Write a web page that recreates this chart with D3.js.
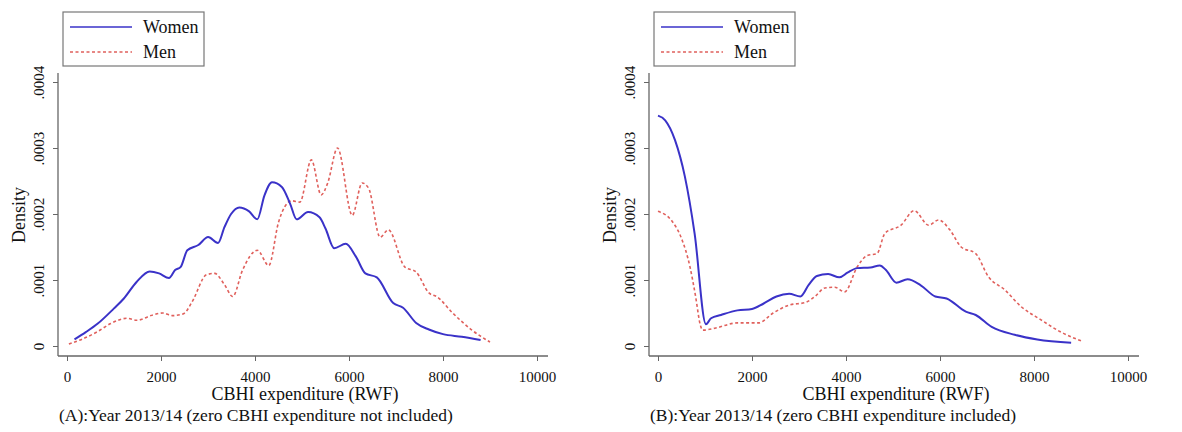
<!DOCTYPE html>
<html>
<head>
<meta charset="utf-8">
<script src="https://cdn.jsdelivr.net/npm/d3@7"></script>
<style>
  body { margin: 0; background: #fff; }
  svg text { font-family: "Liberation Serif", "Times New Roman", serif; fill: #111; }
</style>
</head>
<body>
<svg id="chart" width="1182" height="432"></svg>
<script>
// density values in units of 1e-4
const xTicks = [0, 2000, 4000, 6000, 8000, 10000];
const yTicks = [0, 0.0001, 0.0002, 0.0003, 0.0004];
const yTickLabels = ['0', '.0001', '.0002', '.0003', '.0004'];
const seriesNames = ['Women', 'Men'];

// (A) zero expenditure not included
const womenA = [
  [160, 0.10], [400, 0.21], [655, 0.34], [1000, 0.57], [1210, 0.72], [1480, 0.97],
  [1760, 1.13], [1960, 1.10], [2170, 1.03], [2300, 1.15], [2420, 1.20], [2560, 1.45],
  [2794, 1.53], [3003, 1.65], [3213, 1.56], [3350, 1.80], [3491, 2.0], [3666, 2.1],
  [3875, 2.04], [4049, 1.92], [4200, 2.28], [4362, 2.48], [4571, 2.41], [4750, 2.15],
  [4885, 1.92], [5129, 2.03], [5373, 1.95], [5500, 1.78], [5686, 1.48], [5930, 1.55],
  [6150, 1.35], [6348, 1.1], [6592, 1.04], [6941, 0.65], [7150, 0.58], [7429, 0.35],
  [7700, 0.25], [8000, 0.18], [8400, 0.14], [8800, 0.09]
];
const menA = [
  [40, 0.03], [310, 0.10], [655, 0.22], [930, 0.34], [1276, 0.42], [1483, 0.39],
  [1828, 0.47], [2034, 0.50], [2241, 0.46], [2483, 0.49], [2655, 0.66], [2969, 1.08],
  [3143, 1.10], [3350, 0.93], [3526, 0.75], [3735, 1.15], [4049, 1.45], [4293, 1.22],
  [4502, 1.88], [4780, 2.2], [4955, 2.18], [5199, 2.82], [5408, 2.29], [5547, 2.47],
  [5756, 3.0], [6070, 1.98], [6279, 2.47], [6418, 2.39], [6662, 1.65], [6836, 1.76],
  [7185, 1.2], [7429, 1.12], [7707, 0.8], [7863, 0.75], [8205, 0.5], [8616, 0.24],
  [9000, 0.06]
];

// (B) zero expenditure included
const womenB = [
  [0, 3.49], [153, 3.42], [362, 3.12], [571, 2.57], [780, 1.70], [1020, 0.33],
  [1129, 0.42], [1340, 0.47], [1690, 0.54], [2000, 0.56], [2240, 0.64], [2520, 0.75],
  [2790, 0.79], [3030, 0.75], [3210, 0.93], [3380, 1.06], [3620, 1.09], [3860, 1.04],
  [4030, 1.11], [4240, 1.18], [4520, 1.19], [4720, 1.22], [4850, 1.15], [5070, 0.96],
  [5310, 1.01], [5590, 0.92], [5900, 0.75], [6140, 0.72], [6550, 0.52], [6760, 0.47],
  [7100, 0.29], [7590, 0.17], [8070, 0.10], [8790, 0.05]
];
const menB = [
  [0, 2.04], [300, 1.89], [500, 1.63], [680, 1.20], [800, 0.75], [900, 0.32],
  [950, 0.24], [1210, 0.27], [1690, 0.35], [2140, 0.35], [2450, 0.50], [2790, 0.62],
  [3140, 0.66], [3340, 0.75], [3550, 0.88], [3760, 0.89], [3970, 0.82], [4240, 1.2],
  [4450, 1.37], [4660, 1.40], [4830, 1.71], [5170, 1.83], [5450, 2.05], [5760, 1.83],
  [5970, 1.91], [6210, 1.76], [6450, 1.5], [6760, 1.40], [7030, 1.05], [7380, 0.85],
  [7720, 0.6], [8140, 0.4], [8550, 0.22], [9030, 0.07]
];

const panels = [
  { left: 58, x0: 67, x1: 537, women: womenA, men: menA,
    caption: '(A):Year 2013/14 (zero CBHI expenditure not included)' },
  { left: 649, x0: 658, x1: 1128, women: womenB, men: menB,
    caption: '(B):Year 2013/14 (zero CBHI expenditure included)' }
];

const blue = '#3a32c8';
const red = '#e0605c';
const axisColor = '#666';
const serif = '"Liberation Serif", "Times New Roman", serif';
const svg = d3.select('#chart');

panels.forEach((p) => {
  const g = svg.append('g');
  const xScale = d3.scaleLinear().domain([0, 10000]).range([p.x0, p.x1]);
  const yScale = d3.scaleLinear().domain([0, 0.0004]).range([346, 82]);
  const bottom = 356, top = 73, right = p.x1 + 11;

  // axis lines
  g.append('line').attr('x1', p.left).attr('x2', p.left).attr('y1', top).attr('y2', bottom)
    .attr('stroke', axisColor).attr('stroke-width', 1.3);
  g.append('line').attr('x1', p.left).attr('x2', right).attr('y1', bottom).attr('y2', bottom)
    .attr('stroke', axisColor).attr('stroke-width', 1.3);

  const yAxis = g.append('g')
    .attr('transform', `translate(${p.left},0)`)
    .call(d3.axisLeft(yScale).tickValues(yTicks).tickSize(5)
      .tickFormat((d, i) => yTickLabels[i]));
  yAxis.select('.domain').remove();
  yAxis.selectAll('line').attr('stroke', axisColor);
  yAxis.selectAll('text')
    .attr('x', null).attr('dy', null)
    .attr('transform', 'translate(-14,0) rotate(-90)')
    .attr('text-anchor', 'middle')
    .style('font-size', '15px').style('font-family', serif);

  const xAxis = g.append('g')
    .attr('transform', `translate(0,${bottom})`)
    .call(d3.axisBottom(xScale).tickValues(xTicks).tickSize(5).tickFormat(d3.format('d')));
  xAxis.select('.domain').remove();
  xAxis.selectAll('line').attr('stroke', axisColor);
  xAxis.selectAll('text').attr('y', 15).attr('dy', '0.71em')
    .style('font-size', '15px').style('font-family', serif);

  g.append('text').attr('x', p.left - 39).attr('y', 215)
    .attr('transform', `rotate(-90,${p.left - 39},215)`)
    .attr('text-anchor', 'middle').attr('dy', '0.35em')
    .style('font-size', '18px').text('Density');

  g.append('text').attr('x', (p.left + right) / 2 + 2).attr('y', 400)
    .attr('text-anchor', 'middle').style('font-size', '18px')
    .text('CBHI expenditure (RWF)');

  g.append('text').attr('x', p.left + 1).attr('y', 421)
    .style('font-size', '17.5px').text(p.caption);

  const line = d3.line()
    .x((d) => xScale(d[0]))
    .y((d) => yScale(d[1] * 1e-4))
    .curve(d3.curveMonotoneX);

  g.append('path').datum(p.men).attr('d', line)
    .attr('fill', 'none').attr('stroke', red).attr('stroke-width', 1.6)
    .attr('stroke-dasharray', '3,2.5');
  g.append('path').datum(p.women).attr('d', line)
    .attr('fill', 'none').attr('stroke', blue).attr('stroke-width', 2);

  // legend
  const lg = g.append('g').attr('transform', `translate(${p.left + 5},12)`);
  lg.append('rect').attr('width', 141).attr('height', 54)
    .attr('fill', '#fff').attr('stroke', '#777').attr('stroke-width', 1.2);
  seriesNames.forEach((name, i) => {
    const yy = 15 + i * 25;
    lg.append('line').attr('x1', 7).attr('x2', 69).attr('y1', yy).attr('y2', yy)
      .attr('stroke', i === 0 ? blue : red)
      .attr('stroke-width', i === 0 ? 1.6 : 1.4)
      .attr('stroke-dasharray', i === 0 ? null : '3,2.5');
    lg.append('text').attr('x', 80).attr('y', yy).attr('dy', '0.35em')
      .style('font-size', '18px').text(name);
  });
});
</script>
</body>
</html>
